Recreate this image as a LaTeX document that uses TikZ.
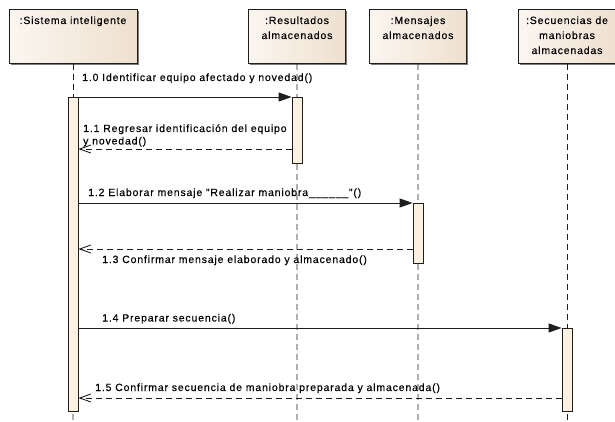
\documentclass[tikz,border=0pt]{standalone}
\usepackage{fontspec}
\setmainfont{Liberation Sans}[LetterSpace=8, FakeBold=0.3]
\usetikzlibrary{arrows.meta,shadows}
\definecolor{boxfillL}{HTML}{FBF6F0}
\definecolor{boxfillR}{HTML}{EEE0CF}
\definecolor{actfill}{HTML}{FDF1E2}
\definecolor{linecol}{HTML}{1E1E1E}
\definecolor{shadowcol}{HTML}{7A7A7A}
\begin{document}
\begin{tikzpicture}[x=1pt,y=-1pt,
  every node/.style={font=\fontsize{10.5}{15}\selectfont, text=black},
  objbox/.style={draw=linecol, line width=0.9pt, left color=boxfillL, right color=boxfillR,
    anchor=north west, inner sep=0pt, minimum height=54pt,
    drop shadow={shadow xshift=2pt, shadow yshift=-2pt, fill=shadowcol, opacity=1}},
  objtext/.style={anchor=base, inner sep=0pt},
  lifeline/.style={draw=linecol, line width=0.8pt, dash pattern=on 6pt off 4pt},
  actbar/.style={draw=linecol, line width=0.9pt, fill=actfill, anchor=north, inner sep=0pt, minimum width=10pt},
  callmsg/.style={draw=linecol, line width=0.9pt, -{Triangle[length=13pt,width=9pt]}},
  retmsg/.style={draw=linecol, line width=0.9pt, dash pattern=on 6pt off 4pt, -{Straight Barb[length=11pt,width=8pt]}},
  msglabel/.style={anchor=base west, inner sep=0pt}]
\useasboundingbox (0,0) rectangle (615,422);
\fill[white] (0,0) rectangle (615,422);

% object boxes
\node[objbox, minimum width=128pt] (S) at (9,9) {};
\node[objbox, minimum width=97pt] (R) at (248,9) {};
\node[objbox, minimum width=97pt] (M) at (369,9) {};
\node[objbox, minimum width=98pt] (Q) at (518,9) {};

\node[objtext] (St) at (73,24) {\begin{tabular}[t]{@{}c@{}}:Sistema inteligente\end{tabular}};
\node[objtext] (Rt) at (297,24) {\begin{tabular}[t]{@{}c@{}}:Resultados\\almacenados\end{tabular}};
\node[objtext] (Mt) at (418,24) {\begin{tabular}[t]{@{}c@{}}:Mensajes\\almacenados\end{tabular}};
\node[objtext] (Qt) at (567,24) {\begin{tabular}[t]{@{}c@{}}:Secuencias de\\maniobras\\almacenadas\end{tabular}};

% lifeline ends
\coordinate (Send) at (73,422);
\coordinate (Rend) at (297,422);
\coordinate (Mend) at (418,422);
\coordinate (Qend) at (567,422);

\draw[lifeline] (S.south) -- (Send);
\draw[lifeline] (R.south) -- (Rend);
\draw[lifeline] (M.south) -- (Mend);
\draw[lifeline] (Q.south -| Qend) -- (Qend);

% activation bars
\node[actbar, minimum height=314pt] (sA) at (73,97) {};
\node[actbar, minimum height=66pt] (rA) at (297,97) {};
\node[actbar, minimum height=60pt] (mA) at (418,203) {};
\node[actbar, minimum height=83pt] (qA) at (567,328) {};

% messages
\draw[callmsg] (sA.north east) -- (rA.north west);
\node[msglabel] (l10) at (82,81) {1.0 Identificar equipo afectado y novedad()};

\draw[retmsg] (rA.west |- 0,149) -- (sA.east |- 0,149);
\node[msglabel, font=\fontsize{10.5}{12.5}\selectfont] (l11) at (83,132) {\begin{tabular}[t]{@{}l@{}}1.1 Regresar identificación del equipo\\y novedad()\end{tabular}};

\draw[callmsg] (sA.east |- mA.north) -- (mA.north west);
\node[msglabel] (l12) at (88,196) {1.2 Elaborar mensaje "Realizar maniobra\_\_\_\_\_\_"()};

\draw[retmsg] (mA.west |- 0,249) -- (sA.east |- 0,249);
\node[msglabel] (l13) at (102,263) {1.3 Confirmar mensaje elaborado y almacenado()};

\draw[callmsg] (sA.east |- qA.north) -- (qA.north west);
\node[msglabel] (l14) at (102,321.5) {1.4 Preparar secuencia()};

\draw[retmsg] (qA.west |- 0,398) -- (sA.east |- 0,398);
\node[msglabel] (l15) at (95,391) {1.5 Confirmar secuencia de maniobra preparada y almacenada()};
\end{tikzpicture}
\end{document}
